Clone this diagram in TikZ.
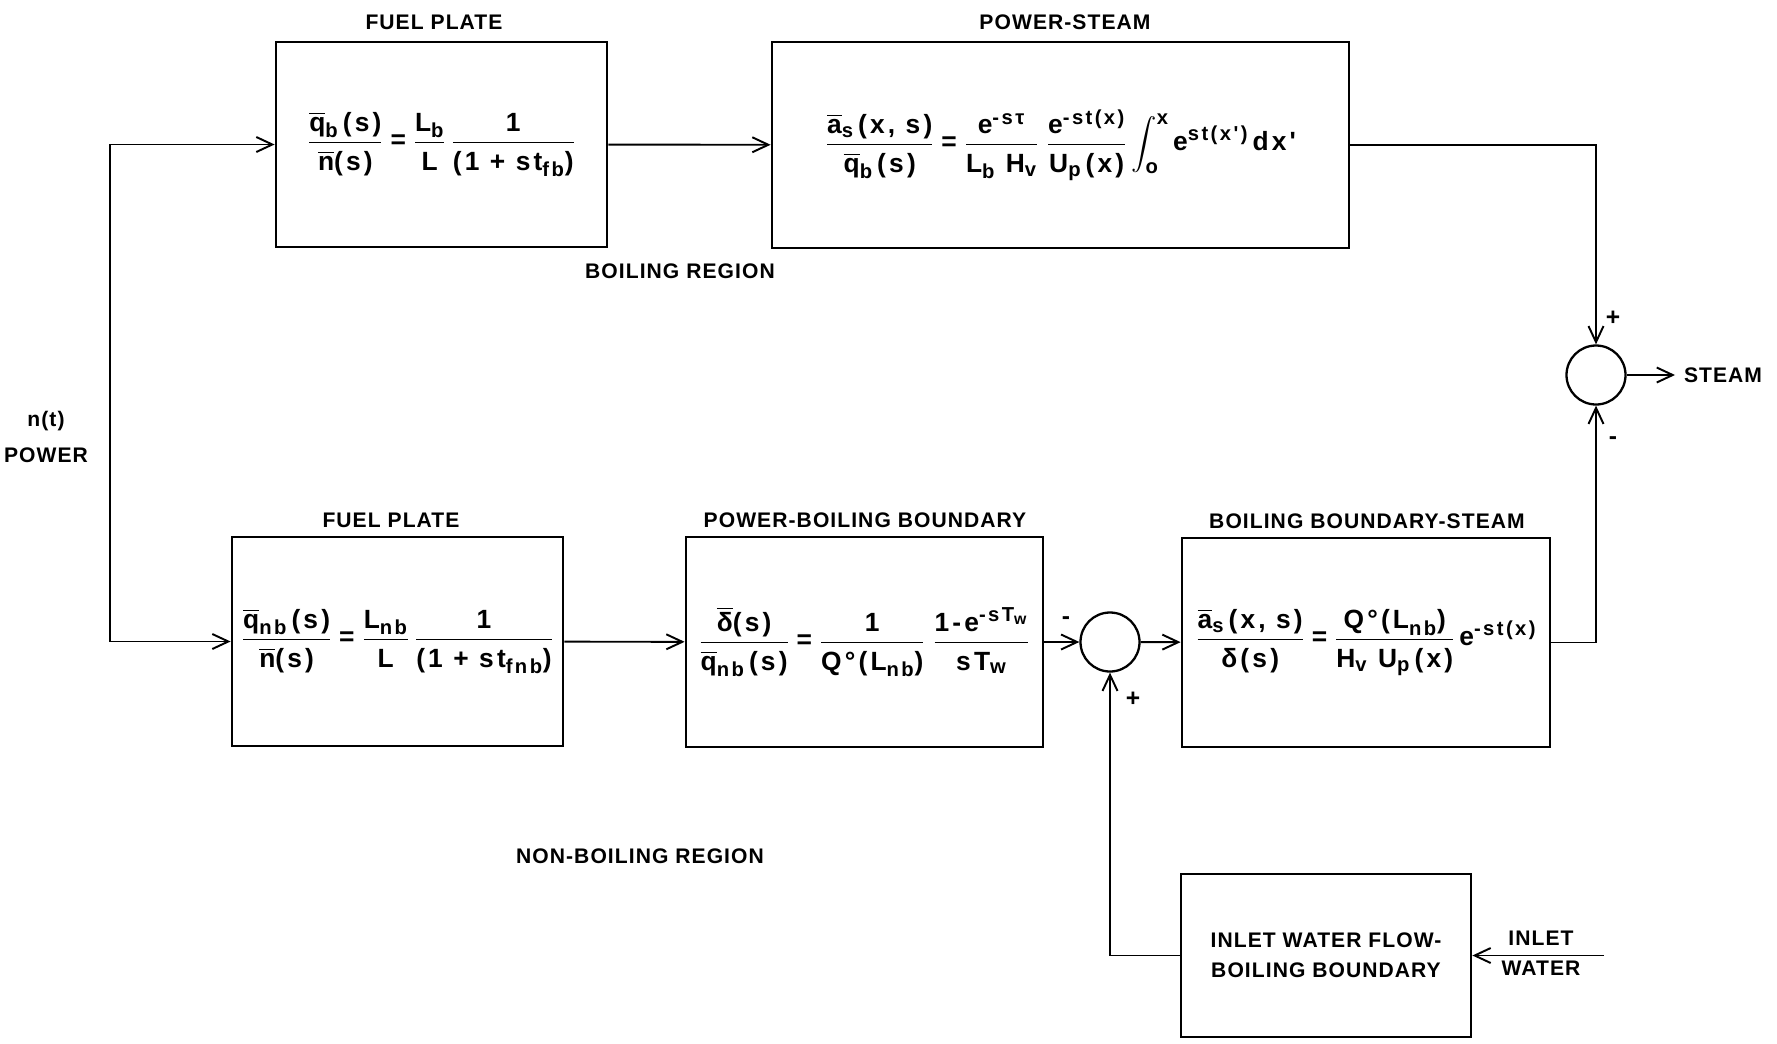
\documentclass[tikz,border=0pt]{standalone}
\usepackage{amsmath}
\usepackage{fontspec}
\setmainfont{Liberation Sans}[LetterSpace=5]
\newfontfamily\eqfont{Liberation Sans}[LetterSpace=12]
\usepackage{tikz}
\usetikzlibrary{arrows.meta,positioning}
\DeclareMathSizes{15}{15}{11.5}{9}

\newcommand{\tx}[1]{\text{#1}}
\newcommand{\ob}[1]{\overline{\text{#1}}}
\newcommand{\fr}[2]{\frac{#1\rule[-4pt]{0pt}{4pt}}{\rule{0pt}{14pt}#2}}

\begin{document}
\begin{tikzpicture}[
  x=0.2mm, y=-0.2mm,
  block/.style={
    draw,
    line width=1.6pt,
    align=center,
    inner sep=0pt,
    font=\eqfont\bfseries\fontsize{15}{18}\selectfont
  },
  sumpt/.style={draw, circle, line width=1.3pt, minimum size=11.8mm, inner sep=0pt},
  flow/.style={-{Straight Barb[length=3.2mm,width=3mm]}, line width=1.1pt},
  title/.style={font=\bfseries\fontsize{12}{14}\selectfont},
  sign/.style={font=\bfseries\fontsize{14}{14}\selectfont, inner sep=0pt},
  font=\bfseries\fontsize{12}{17}\selectfont
]
\useasboundingbox (0,0) rectangle (1777,1043);

% boiling region
\node[block, minimum width=66.2mm, minimum height=41mm] (fp1) at (441.5,144.5)
{$\displaystyle \fr{\ob{q}_{\tx{b}}\,\tx{(s)}}{\ob{n}\tx{(s)}}
 \mathrel{\tx{=}} \fr{\tx{L}_{\tx{b}}}{\tx{L}}\,
 \fr{\tx{1}}{\tx{(1 + st}_{\tx{fb}}\tx{)}}$};
\node[block, minimum width=115.4mm, minimum height=41.2mm] (ps) at (1060.5,145)
{$\displaystyle \fr{\ob{a}_{\tx{s}}\,\tx{(x, s)}}{\ob{q}_{\tx{b}}\,\tx{(s)}}
 \mathrel{\tx{=}} \fr{\tx{e}^{\tx{-sτ}}}{\tx{L}_{\tx{b}}\ \tx{H}_{\tx{v}}}\;
 \fr{\tx{e}^{\tx{-st(x)}}}{\tx{U}_{\tx{p}}\,\tx{(x)}}
 \int_{\tx{o}}^{\tx{x}}\tx{e}^{\tx{st(x')}}\,\tx{dx'}$};

% non-boiling region
\node[block, minimum width=66.2mm, minimum height=41.8mm] (fp2) at (397.5,641.5)
{$\displaystyle \fr{\ob{q}_{\tx{nb}}\,\tx{(s)}}{\ob{n}\tx{(s)}}
 \mathrel{\tx{=}} \fr{\tx{L}_{\tx{nb}}}{\tx{L}}\,
 \fr{\tx{1}}{\tx{(1 + st}_{\tx{fnb}}\tx{)}}$};
\node[block, minimum width=71.4mm, minimum height=42mm] (pbb) at (864.5,642)
{$\displaystyle \fr{\ob{δ}\tx{(s)}}{\ob{q}_{\tx{nb}}\,\tx{(s)}}
 \mathrel{\tx{=}} \fr{\tx{1}}{\tx{Q°(L}_{\tx{nb}}\tx{)}}\;
 \fr{\tx{1-e}^{\tx{-sT}_{\tx{w}}}}{\tx{sT}_{\tx{w}}}$};
\node[block, minimum width=73.6mm, minimum height=41.8mm] (bbs) at (1366,642.5)
{$\displaystyle \fr{\ob{a}_{\tx{s}}\,\tx{(x, s)}}{\tx{δ(s)}}
 \mathrel{\tx{=}} \fr{\tx{Q°(L}_{\tx{nb}}\tx{)}}{\tx{H}_{\tx{v}}\ \tx{U}_{\tx{p}}\,\tx{(x)}}\,
 \tx{e}^{\tx{-st(x)}}$};
\node[block, minimum width=58mm, minimum height=32.6mm, font=\bfseries\fontsize{12}{17}\selectfont] (inlet) at (1326,955.5)
{INLET WATER FLOW-\\BOILING BOUNDARY};

\node[sumpt] (j1) at (1110,642) {};
\node[sumpt] (j2) at (1596,375) {};

% titles and labels
\node[title] (fp1t) at (434,22) {FUEL PLATE};
\node[title] (pst) at (1065,22) {POWER-STEAM};
\node[title] (fp2t) at (391,520) {FUEL PLATE};
\node[title] (pbbt) at (865,520) {POWER-BOILING BOUNDARY};
\node[title] (bbst) at (1367,521) {BOILING BOUNDARY-STEAM};
\node[title] (breg) at (680,271) {BOILING REGION};
\node[title] (nbreg) at (640,856) {NON-BOILING REGION};
\node[align=center, font=\bfseries\fontsize{12}{20}\selectfont] (power) at (46,437) {n(t)\\POWER};
\node[title] (steam) at (1723,375) {STEAM};
\node[align=center] (water) at (1541,953) {INLET\\WATER};

\node[sign] (s1) at (1613,318) {+};
\node[sign] (s2) at (1613,441) {-};
\node[sign] (s3) at (1066,621) {-};
\node[sign] (s4) at (1133,699) {+};

\coordinate (feed) at (110,400);
\coordinate (src) at (1604,955.5);

\draw[flow] (feed) |- (fp1.west);
\draw[flow] (feed) |- (fp2.west);
\draw[flow] (fp1) -- (ps);
\draw[flow] (ps.east) -| (j2.north);
\draw[flow] (bbs.east) -| (j2.south);
\draw[flow] (j2.east) -- (1675,375);
\draw[flow] (fp2) -- (pbb);
\draw[flow] (pbb) -- (j1);
\draw[flow] (j1) -- (bbs);
\draw[flow] (inlet.west) -| (j1.south);
\draw[flow] (src) -- (inlet.east);
\end{tikzpicture}
\end{document}
